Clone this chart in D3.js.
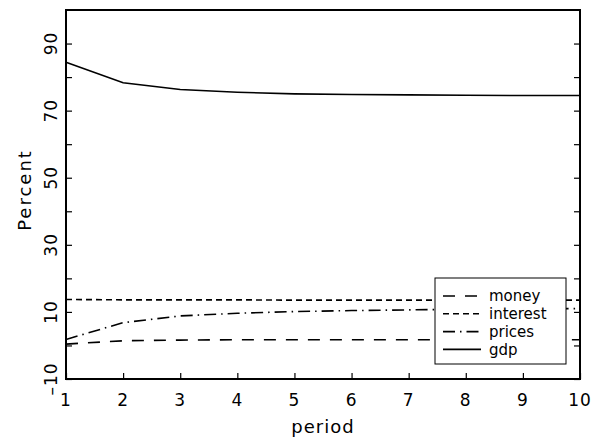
<!DOCTYPE html>
<html>
<head>
<meta charset="utf-8">
<script src="https://cdn.jsdelivr.net/npm/d3@7"></script>
<style>
  body { margin: 0; background: #fff; }
  text { font-family: "DejaVu Sans", sans-serif; fill: #000; }
</style>
</head>
<body>
<div id="chart"></div>
<script>
// data
var periods = [1, 2, 3, 4, 5, 6, 7, 8, 9, 10];
var money = [0.4, 1.4, 1.6, 1.7, 1.7, 1.7, 1.7, 1.7, 1.7, 1.7];
var interest = [13.7, 13.6, 13.6, 13.6, 13.5, 13.5, 13.5, 13.5, 13.5, 13.5];
var prices = [1.8, 6.8, 8.8, 9.6, 10.1, 10.4, 10.6, 10.8, 10.9, 11.0];
var gdp = [84.4, 78.3, 76.3, 75.5, 75.0, 74.8, 74.7, 74.6, 74.5, 74.5];
var yTickLabels = [-10, 10, 30, 50, 70, 90];

var series = [
    { name: "money", values: money, dash: "12,10" },
    { name: "interest", values: interest, dash: "6,4" },
    { name: "prices", values: prices, dash: "12,5,1.5,5" },
    { name: "gdp", values: gdp, dash: null }
];

var width = 602, height = 441;
var plot = { left: 66, right: 580, top: 10, bottom: 379 };

var svg = d3.select("#chart").append("svg")
    .attr("width", width)
    .attr("height", height);

var x = d3.scaleLinear().domain([1, 10]).range([plot.left, plot.right]);
var y = d3.scaleLinear().domain([-10, 100]).range([plot.bottom, plot.top]);

// lines
var line = d3.line()
    .x(function (d, i) { return x(periods[i]); })
    .y(function (d) { return y(d); });

svg.selectAll("path.series")
    .data(series)
    .enter().append("path")
    .attr("class", "series")
    .attr("d", function (d) { return line(d.values); })
    .attr("fill", "none")
    .attr("stroke", "#000")
    .attr("stroke-width", 1.6)
    .attr("stroke-dasharray", function (d) { return d.dash; });

// axes: ticks inside the frame
var yTicks = d3.range(-10, 100, 10);

svg.append("g")
    .attr("transform", "translate(0," + plot.bottom + ")")
    .call(d3.axisBottom(x).tickValues(periods).tickSize(-6).tickFormat(""))
    .call(function (g) { g.select(".domain").remove(); });

svg.append("g")
    .attr("transform", "translate(" + plot.left + ",0)")
    .call(d3.axisLeft(y).tickValues(yTicks).tickSize(-6).tickFormat(""))
    .call(function (g) { g.select(".domain").remove(); });

svg.append("g")
    .attr("transform", "translate(" + plot.right + ",0)")
    .call(d3.axisRight(y).tickValues(yTicks).tickSize(-6).tickFormat(""))
    .call(function (g) { g.select(".domain").remove(); });

svg.selectAll(".tick line").attr("stroke", "#000").attr("stroke-width", 1.2);

// frame
svg.append("rect")
    .attr("x", plot.left)
    .attr("y", plot.top)
    .attr("width", plot.right - plot.left)
    .attr("height", plot.bottom - plot.top)
    .attr("fill", "none")
    .attr("stroke", "#000")
    .attr("stroke-width", 2);

// x tick labels
svg.selectAll("text.xlab")
    .data(periods)
    .enter().append("text")
    .attr("class", "xlab")
    .attr("x", function (d) { return x(d); })
    .attr("y", 406)
    .attr("text-anchor", "middle")
    .style("font-size", "17px")
    .style("letter-spacing", "1px")
    .text(function (d) { return d; });

// y tick labels, rotated
svg.selectAll("text.ylab")
    .data(yTickLabels)
    .enter().append("text")
    .attr("class", "ylab")
    .attr("transform", function (d) {
        return "translate(57," + y(d) + ") rotate(-90)";
    })
    .attr("text-anchor", "middle")
    .style("font-size", "17px")
    .style("letter-spacing", "1px")
    .text(function (d) { return d < 0 ? "\u2013" + Math.abs(d) : d; });

// axis titles
svg.append("text")
    .attr("x", (plot.left + plot.right) / 2)
    .attr("y", 433)
    .attr("text-anchor", "middle")
    .style("font-size", "18px")
    .style("letter-spacing", "1px")
    .text("period");

svg.append("text")
    .attr("transform", "translate(31," + 190 + ") rotate(-90)")
    .attr("text-anchor", "middle")
    .style("font-size", "18px")
    .style("letter-spacing", "2px")
    .text("Percent");

// legend
var legend = svg.append("g").attr("transform", "translate(435,278)");
legend.append("rect")
    .attr("width", 131)
    .attr("height", 86)
    .attr("fill", "#fff")
    .attr("stroke", "#000")
    .attr("stroke-width", 1);

var item = legend.selectAll("g.item")
    .data(series)
    .enter().append("g")
    .attr("class", "item")
    .attr("transform", function (d, i) { return "translate(0," + (18 + i * 17.8) + ")"; });

item.append("line")
    .attr("x1", 8)
    .attr("x2", 46)
    .attr("stroke", "#000")
    .attr("stroke-width", 1.6)
    .attr("stroke-dasharray", function (d) { return d.dash; });

item.append("text")
    .attr("x", 54)
    .attr("dy", "0.35em")
    .style("font-size", "15px")
    .text(function (d) { return d.name; });
</script>
</body>
</html>
